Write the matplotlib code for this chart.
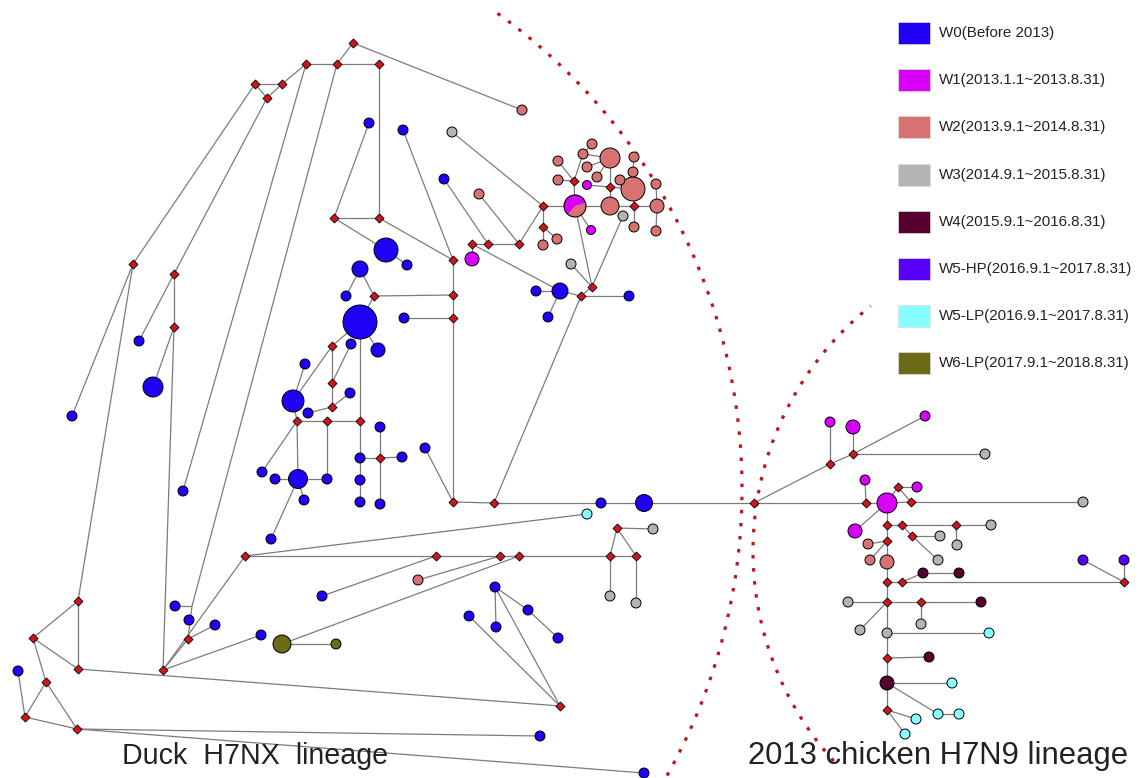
import numpy as np
import matplotlib
matplotlib.use("Agg")
import matplotlib.pyplot as plt
from matplotlib.collections import LineCollection
from matplotlib.patches import Wedge, Rectangle

# ------------------------------------------------------------------ data
# median vectors (red diamonds), pixel layout of the network
mv_ids = [f"m{i}" for i in range(1, 70)] + ["j1"]
mv_x = [353, 306, 337, 379, 255, 282, 267, 334, 379, 133, 174, 174, 374, 453, 453,
        453, 332, 332, 332, 297, 327, 360, 380, 453, 494, 754, 472, 488, 519, 543,
        543, 574, 610, 634, 592, 581, 245, 436, 500, 519, 610, 636, 617, 560, 78,
        33, 78, 46, 25, 77, 163, 188, 830, 853, 866, 898, 911, 887, 902, 956,
        912, 887, 887, 902, 1124, 887, 921, 887, 887, 192]
mv_y = [43, 64, 64, 64, 84, 84, 98, 218, 218, 264, 274, 327, 296, 260, 295,
        318, 346, 383, 407, 421, 421, 421, 458, 502, 503, 503, 244, 244, 244, 206,
        227, 181, 187, 206, 287, 296, 556, 556, 556, 556, 556, 556, 528, 706, 601,
        638, 669, 682, 717, 729, 670, 639, 464, 454, 503, 487, 502, 525, 525, 525,
        536, 541, 582, 582, 582, 602, 602, 658, 710, 606]

# sampled haplotypes: id, position, wave, radius (px)
smp_ids = ["b1", "b2", "b3", "b4", "b5", "b6", "b7", "b8", "b9", "b10", "b11", "b12",
           "b13", "b14", "b15", "b16", "b17", "b18", "b19", "b20", "b21", "b22", "b23",
           "b24", "b25", "b26", "b27", "b28", "b29", "b30", "b31", "b32", "b33", "b34",
           "b35", "b36", "b37", "b38", "b39", "b40", "b41", "b42", "b43", "b44", "b45",
           "b46", "b47", "b48", "b49", "b50", "b51",
           "p1", "p2", "p3", "p4", "p5", "p6", "p7", "p8", "p9", "p10",
           "s1", "s2", "s3", "s4", "s5", "s6", "s7", "s8", "s9", "s10", "s11", "s12",
           "s13", "s14", "s15", "s16", "s17", "s18", "s19", "s20", "s21", "s22", "s23",
           "s24",
           "g1", "g2", "g3", "g4", "g5", "g6", "g7", "g8", "g9", "g10", "g11", "g12",
           "g13", "g14", "g15", "g16",
           "d1", "d2", "d3", "d4", "d5", "h1", "h2",
           "c1", "c2", "c3", "c4", "c5", "c6", "c7", "o1", "o2"]
smp_x = [369, 403, 444, 386, 407, 360, 346, 360, 351, 378, 305, 350, 293, 308, 404,
         139, 153, 72, 183, 380, 360, 402, 360, 360, 380, 262, 275, 298, 327, 304,
         271, 425, 536, 560, 548, 629, 601, 644, 175, 189, 215, 261, 322, 495, 469,
         496, 528, 558, 540, 644, 18,
         472, 587, 591, 830, 853, 925, 865, 887, 917, 855,
         522, 479, 610, 657, 558, 558, 583, 592, 610, 597, 620, 633, 634, 633, 656,
         634, 656, 543, 557, 418, 868, 870, 887, 587,
         452, 623, 571, 653, 610, 636, 985, 1083, 991, 957, 940, 938, 848, 921, 860,
         887,
         923, 959, 981, 929, 887, 1083, 1124,
         587, 989, 952, 916, 938, 959, 905, 282, 336]
smp_y = [123, 130, 179, 250, 265, 269, 296, 322, 344, 350, 364, 393, 401, 413, 318,
         341, 387, 416, 491, 427, 458, 457, 480, 502, 504, 472, 479, 479, 479, 500,
         539, 448, 291, 291, 317, 296, 503, 503, 606, 620, 625, 635, 596, 587, 616,
         627, 610, 638, 736, 773, 671,
         259, 185, 230, 422, 427, 416, 480, 503, 487, 531,
         110, 194, 206, 206, 180, 161, 154, 144, 158, 177, 180, 189, 157, 172, 184,
         227, 231, 245, 239, 580, 544, 560, 562, 167,
         132, 216, 264, 529, 596, 603, 454, 502, 525, 545, 536, 560, 602, 624, 630,
         633,
         573, 573, 602, 657, 683, 560, 560,
         514, 633, 683, 719, 714, 714, 734, 644, 644]
smp_wave = (["W0"] * 51 + ["W1"] * 10 + ["W2"] * 24 + ["W3"] * 16 + ["W4"] * 5
            + ["W5-HP"] * 2 + ["W5-LP"] * 7 + ["W6-LP"] * 2)
smp_r = [5, 5, 5, 12, 5, 8, 5, 17, 5, 7, 5, 5, 11, 5, 5, 5, 10, 5, 5, 5, 5, 5, 5, 5,
         5, 5, 5, 9.5, 5, 5, 5, 5, 5, 8, 5, 5, 5, 8.5, 5, 5, 5, 5, 5, 5, 5, 5, 5, 5,
         5, 5, 5,
         7, 4.5, 4.5, 5, 7, 5, 5, 10, 5, 7,
         5, 5, 9, 7, 5, 5, 5, 5, 10, 5, 5, 12, 5, 5, 5, 5, 5, 5, 5, 5, 5, 5, 7, 5,
         5, 5, 5, 5, 5, 5, 5, 5, 5, 5, 5, 5, 5, 5, 5, 5,
         5, 5, 5, 5, 7, 5, 5,
         5, 5, 5, 5, 5, 5, 5, 9, 5]

# one haplotype shared by W1 and W2
split_id, split_x, split_y, split_r = "sp", 575, 206, 11
split_frac = [0.6, 0.4]   # W1, W2

edges = [("m1", "m3"), ("m1", "s1"), ("m2", "m3"), ("m3", "m4"), ("m2", "m6"),
         ("m5", "m6"), ("m5", "m7"), ("m6", "m7"), ("m5", "m10"), ("m7", "m11"),
         ("m2", "b19"), ("m3", "j1"), ("m4", "m9"), ("m8", "m9"), ("m8", "b1"),
         ("m8", "b4"), ("b4", "b5"), ("m9", "m14"), ("b2", "m14"), ("m14", "m15"),
         ("m15", "m16"), ("m16", "m24"), ("b15", "m16"), ("b6", "b7"), ("b6", "m13"),
         ("m13", "m15"), ("m13", "b8"), ("b8", "m17"), ("b8", "b10"), ("b8", "m22"),
         ("m17", "b13"), ("m17", "m18"), ("m18", "b9"), ("m18", "m19"), ("m19", "b12"),
         ("m19", "b14"), ("b11", "b13"), ("b13", "m20"), ("m20", "m21"), ("m21", "m22"),
         ("m20", "b28"), ("m21", "b29"), ("m20", "b26"), ("b28", "b27"), ("b28", "b29"),
         ("b28", "b30"), ("b28", "b31"), ("m22", "b21"), ("b21", "b23"), ("b23", "b24"),
         ("b21", "m23"), ("m23", "b20"), ("m23", "b22"), ("m23", "b25"), ("b32", "m24"),
         ("m24", "m25"), ("m25", "m36"), ("m25", "b37"), ("b37", "b38"), ("b38", "m26"),
         ("m36", "b36"), ("m36", "b34"), ("b34", "b33"), ("b34", "b35"), ("m36", "m35"),
         ("m35", "sp"), ("m35", "g2"), ("m35", "g3"), ("m27", "b34"), ("m27", "p1"),
         ("m27", "m28"), ("m28", "m29"), ("m28", "b3"), ("m29", "s2"), ("m29", "m30"),
         ("m30", "g1"), ("m30", "sp"), ("sp", "s3"), ("s3", "m34"), ("m34", "s4"),
         ("m30", "m31"), ("m31", "s18"), ("m31", "s19"), ("sp", "m32"), ("m32", "s5"),
         ("m32", "s6"), ("m32", "s7"), ("s7", "s8"), ("s7", "s9"), ("s9", "m33"),
         ("m33", "s3"), ("m33", "p2"), ("m33", "s12"), ("s13", "s14"), ("s14", "s12"),
         ("s12", "m34"), ("m34", "s16"), ("s15", "s4"), ("s4", "s17"), ("sp", "p3"),
         ("s9", "s10"), ("s9", "s24"), ("s11", "s12"), ("m10", "b18"), ("m10", "m45"),
         ("m11", "b16"), ("m11", "m12"), ("m12", "b17"), ("m12", "m51"), ("j1", "b39"),
         ("j1", "m52"), ("m52", "b41"), ("m52", "m51"), ("m51", "m37"), ("m51", "b42"),
         ("m37", "m38"), ("m38", "m39"), ("m39", "m40"), ("m40", "m41"), ("m41", "m42"),
         ("m37", "c1"), ("b43", "m38"), ("s20", "m39"), ("o1", "m40"), ("o1", "o2"),
         ("m43", "g4"), ("m43", "m41"), ("m43", "m42"), ("m41", "g5"), ("m42", "g6"),
         ("m45", "m46"), ("m45", "m47"), ("m46", "m47"), ("m46", "m48"), ("m48", "m49"),
         ("m48", "m50"), ("b51", "m49"), ("m49", "m50"), ("m47", "m44"), ("m50", "b49"),
         ("m50", "b50"), ("m44", "b45"), ("m44", "b44"), ("b44", "b46"), ("b44", "b47"),
         ("b47", "b48"),
         ("m26", "m53"), ("m53", "m54"), ("m54", "p6"), ("m53", "p4"), ("m54", "p5"),
         ("m54", "g7"), ("m26", "m55"), ("m55", "p8"), ("m55", "p7"), ("p8", "m57"),
         ("m57", "g8"), ("p8", "m56"), ("m56", "p9"), ("m56", "m57"), ("p8", "m58"),
         ("p8", "p10"), ("m58", "m59"), ("m59", "m60"), ("m60", "g9"), ("m60", "g10"),
         ("m59", "m61"), ("m61", "g11"), ("m61", "g12"), ("m58", "m62"), ("m62", "s23"),
         ("m62", "s21"), ("m62", "s22"), ("s23", "m63"), ("m63", "m64"), ("m64", "d1"),
         ("d1", "d2"), ("m64", "m65"), ("m65", "h2"), ("m65", "h1"), ("m63", "m66"),
         ("m66", "g16"), ("g16", "m68"), ("m68", "d5"), ("d5", "m69"), ("m66", "g13"),
         ("m66", "m67"), ("m67", "d3"), ("m67", "g14"), ("m66", "g15"), ("g16", "c2"),
         ("m68", "d4"), ("d5", "c3"), ("d5", "c5"), ("c5", "c6"), ("m69", "c4"),
         ("m69", "c7")]

waves = ["W0", "W1", "W2", "W3", "W4", "W5-HP", "W5-LP", "W6-LP"]
wave_labels = ["W0(Before 2013)", "W1(2013.1.1~2013.8.31)", "W2(2013.9.1~2014.8.31)",
               "W3(2014.9.1~2015.8.31)", "W4(2015.9.1~2016.8.31)",
               "W5-HP(2016.9.1~2017.8.31)", "W5-LP(2016.9.1~2017.8.31)",
               "W6-LP(2017.9.1~2018.8.31)"]
wave_colors = ["#1e00f5", "#d800f8", "#d87272", "#b4b4b4", "#560030", "#5a00f8",
               "#88ffff", "#6b6a16"]

lineage_labels = ["Duck  H7NX  lineage", "2013 chicken H7N9 lineage"]

# ------------------------------------------------------------------ plot
W, H = 1139, 778
fig = plt.figure(figsize=(W / 100, H / 100), dpi=100)
ax = fig.add_axes([0, 0, 1, 1])
ax.set_xlim(0, W)
ax.set_ylim(H, 0)
ax.axis("off")

pos = {i: (x, y) for i, x, y in zip(mv_ids, mv_x, mv_y)}
pos.update({i: (x, y) for i, x, y in zip(smp_ids, smp_x, smp_y)})
pos[split_id] = (split_x, split_y)

segs = [[pos[a], pos[b]] for a, b in edges]
ax.add_collection(LineCollection(segs, colors="#7c7c7c", linewidths=0.9, zorder=1))

# dotted lineage boundaries (circle arcs)
for cx, cy, r, a0, a1 in [(157, 489, 585, -54.4, 31), (1067, 551, 314, 138, 231.3)]:
    t = np.radians(np.linspace(a0, a1, 400))
    ax.plot(cx + r * np.cos(t), cy + r * np.sin(t), color="#c0141e", lw=2.3,
            ls=(0, (1.1, 3.0)), zorder=0.5)

# median vectors
real = [i for i in mv_ids if i != "j1"]
ax.scatter([pos[i][0] for i in real], [pos[i][1] for i in real], marker="D", s=21,
           c="#d4141a", edgecolors="black", linewidths=0.6, zorder=3)

# haplotypes
cmap = dict(zip(waves, wave_colors))
order = np.argsort(smp_r)[::-1]
ax.scatter([smp_x[k] for k in order], [smp_y[k] for k in order],
           s=[(2 * smp_r[k] * 0.72) ** 2 for k in order],
           c=[cmap[smp_wave[k]] for k in order], edgecolors="black",
           linewidths=0.7, zorder=4)

# shared W1/W2 haplotype as pie (pink wedge lower right)
ang = split_frac[1] * 360
ax.add_patch(Wedge((split_x, split_y), split_r, -15, -15 + ang, fc=cmap["W2"],
                   ec="none", zorder=5))
ax.add_patch(Wedge((split_x, split_y), split_r, -15 + ang, 345, fc=cmap["W1"],
                   ec="none", zorder=5))
ax.add_patch(plt.Circle((split_x, split_y), split_r, fc="none", ec="black",
                        lw=0.8, zorder=6))

# legend
for k, (lab, col) in enumerate(zip(wave_labels, wave_colors)):
    yc = 33 + k * 47.2
    ax.add_patch(Rectangle((898, yc - 11), 32, 22, fc=col, ec="#dddddd", lw=0.5,
                           zorder=5))
    ax.text(939, yc, lab, fontsize=10.9, family="Liberation Sans", color="#222222",
            va="center", ha="left")

ax.text(122, 756, lineage_labels[0], fontsize=20.6, family="Liberation Sans",
        color="#222222", va="center", ha="left")
ax.text(748, 756, lineage_labels[1], fontsize=22.3, family="Liberation Sans",
        color="#222222", va="center", ha="left")

fig.savefig("out.png", dpi=100)
